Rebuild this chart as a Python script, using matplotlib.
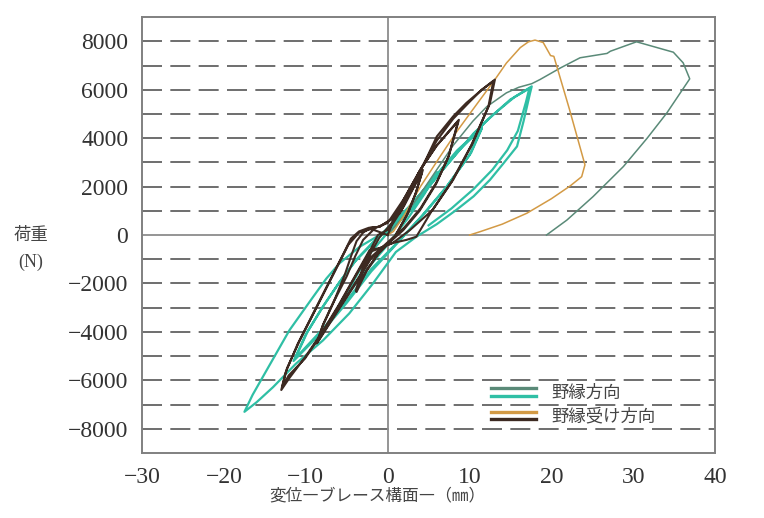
import matplotlib
matplotlib.use("Agg")
import matplotlib.pyplot as plt
from matplotlib.legend_handler import HandlerBase
from matplotlib.lines import Line2D

# ── data ─────────────────────────────────────────────────────────────────────
# 野縁方向, monotonic run (dark green)
nobuchi_mono_x = [0, 1, 2.5, 4, 6, 8, 10.4, 12.1, 14.5, 16, 17.6, 18.6, 21.1, 23.5, 26.8,
                  27.2, 30.4, 34.9, 36.1, 36.9, 34.1, 31.7, 28.8, 25.1, 21.9, 19.4]
nobuchi_mono_y = [0, 400, 1000, 1700, 2700, 3700, 4700, 5300, 5870, 6100, 6250, 6420, 6900,
                  7320, 7500, 7590, 7980, 7550, 7110, 6450, 5040, 4000, 2830, 1590, 620, 0]

# 野縁方向, cyclic run (teal)
nobuchi_cyc_x = [0, 1.5, 3, 4.5, 6,
                 4.5, 2.5, 0, -2.5, -5,
                 -4, -2.5, -1, 0.5, 2, 4, 6, 8.5, 11.5,
                 10, 7, 4, 1, -2, -5, -8, -11.5,
                 -10, -8, -6, -4, -2, 0, 3, 6, 9, 11.5,
                 10.2, 7.2, 4.2, 1.2, -2, -5, -8, -11.3,
                 -9.8, -7.8, -5.8, -3.8, -1.8, 0.3, 3.5, 7, 10.5, 13, 15.5, 17.6,
                 17.4, 16.6, 15.8, 14, 12.5, 10.5, 8.4, 6, 3.5, 1, -1.8, -4.7, -7.9,
                 -11.2, -14, -16, -17.5,
                 -16.5, -14.8, -12, -9.1, -7.5, -5.9, -3.4, -1, 1, 3, 6, 9, 12, 15, 17.3,
                 16.9, 15.9, 14.6, 12.8, 10.5, 7.8, 5]
nobuchi_cyc_y = [0, 600, 1300, 1900, 2600,
                 1700, 700, -400, -1400, -2500,
                 -1800, -900, -300, 300, 900, 1700, 2500, 3500, 4420,
                 3300, 1900, 700, -400, -1500, -2800, -4000, -5200,
                 -4100, -3000, -2000, -1100, -400, 300, 1300, 2500, 3600, 4400,
                 3400, 2000, 800, -300, -1400, -2700, -3900, -5100,
                 -4000, -2900, -1900, -1000, -300, 300, 1400, 2800, 4200, 5000, 5700, 6140,
                 5870, 4700, 3660, 2900, 2280, 1600, 1040, 450, -70, -700, -2000, -3240,
                 -4350, -5310, -6280, -6900, -7300,
                 -6600, -5590, -3930, -2550, -1800, -1170, -480, 0, 400, 1100, 2400,
                 3600, 4700, 5600, 6050,
                 5500, 4300, 3500, 2700, 1900, 1100, 400]

# 野縁受け方向, monotonic run (orange)
nokiuke_mono_x = [0, 0.7, 2, 4, 6.4, 8.5, 10.4, 13.1, 14.5, 16.2, 17.2, 18.0, 19.0, 19.9,
                  20.3, 22.2, 24.1, 23.7, 22.3, 20, 17, 14, 11.3, 10.0]
nokiuke_mono_y = [0, 150, 800, 2000, 3240, 4300, 5180, 6420, 7100, 7740, 7980, 8050, 7950,
                  7410, 7380, 5200, 2900, 2410, 2030, 1500, 900, 450, 140, 0]

# 野縁受け方向, cyclic run (dark brown)
nokiuke_cyc_x = [0, 0.5, 2, 4.3,
                 3.5, 2.5, 1, -1, -2.5, -3.8,
                 -3, -2, -1, 0.5, 2, 4.2,
                 3.4, 2.3, 0.8, -1.2, -2.6, -3.9,
                 -3.1, -2.1, -1.2, 0.2, 2, 4, 6, 8.7,
                 7.5, 6, 4, 2, 0, -2, -4, -6.5, -8.7,
                 -8, -6.5, -5, -4, -3, -1.5, 0, 2, 4, 6, 8.6,
                 7.4, 5.9, 3.9, 1.9, -0.1, -2.1, -4.1, -6.6, -8.6,
                 -7.9, -6.4, -5.2, -4.5, -3.8, -3, -2.2, -1, 0.65, 1.5, 3.5, 6, 8, 9.6,
                 11.5, 13.1,
                 12.5, 10.4, 8, 5.5, 2.7, 0.6, -1, -2.2, -4, -6, -8, -10, -12, -13,
                 -12.5, -11, -9.5, -8, -6.5, -5.3, -4.5, -3.5, -2.3, -1, 0.65, 2, 4, 6,
                 8, 10, 11.5, 12.9,
                 12.3, 10.2, 7.8, 5.3, 3.5, 2.3, 0.6, -1, -2.2, -4.1, -6.1, -8.1, -10.1,
                 -12.1, -12.9,
                 -12.3, -10.8, -9.3, -7.8, -6.3, -4.8, -3.5, -2, 0]
nokiuke_cyc_y = [0, 400, 1200, 2690,
                 1800, 900, 0, -700, -1400, -2350,
                 -1500, -700, -100, 500, 1300, 2600,
                 1700, 800, -100, -800, -1500, -2300,
                 -1400, -600, 0, 250, 1500, 2700, 3700, 4760,
                 3300, 2200, 1100, 300, -300, -900, -2000, -3300, -4480,
                 -3800, -2700, -1700, -900, -200, 300, 500, 1500, 2700, 3700, 4700,
                 3200, 2100, 1000, 200, -400, -1000, -2100, -3400, -4450,
                 -3700, -2600, -1600, -900, -250, 100, 290, 340, 690, 900, 2280, 4070,
                 4900, 5450, 6000, 6420,
                 5450, 3800, 2280, 1040, 200, -330, -540, -620, -1700, -2900, -4000,
                 -5000, -5900, -6400,
                 -5700, -4500, -3500, -2500, -1500, -700, -150, 150, 300, 340, 700, 1400,
                 2700, 3900, 4800, 5500, 6000, 6350,
                 5300, 3700, 2200, 950, -70, -200, -330, -550, -700, -1800, -3000, -4100,
                 -5100, -5800, -6300,
                 -5500, -4400, -3400, -2400, -1400, -400, 100, 250, 0]

# ── figure ────────────────────────────────────────────────────────────────────
JP = ["Noto Sans CJK JP", "DejaVu Sans"]
SERIF = ["Liberation Serif", "DejaVu Serif"]
c_dkgreen, c_teal = "#5a8a78", "#2fbfa5"
c_orange, c_brown = "#d39a45", "#3d2a22"

fig = plt.figure(figsize=(7.64, 5.18), dpi=100)
ax = fig.add_axes([0.186, 0.1255, 0.75, 0.8415])

for yv in range(-8000, 8001, 1000):
    if yv == 0:
        continue
    ax.axhline(yv, color="#555555", lw=1.2, dashes=(12, 5), zorder=0)
ax.axhline(0, color="#8c8c8c", lw=1.3, zorder=0)
ax.axvline(0, color="#8c8c8c", lw=1.3, zorder=0)

ax.plot(nobuchi_cyc_x, nobuchi_cyc_y, color=c_teal, lw=1.6, zorder=2)
ax.plot(nokiuke_cyc_x, nokiuke_cyc_y, color=c_brown, lw=1.5, zorder=3)
ax.plot(nobuchi_mono_x, nobuchi_mono_y, color=c_dkgreen, lw=1.1, zorder=2)
ax.plot(nokiuke_mono_x, nokiuke_mono_y, color=c_orange, lw=1.1, zorder=2)

ax.set_xlim(-30, 40)
ax.set_ylim(-9000, 9000)
ax.set_xticks(range(-30, 41, 10))
ax.set_yticks(range(-8000, 8001, 2000))
ax.tick_params(length=0, pad=10, labelsize=17, labelcolor="#333333")
for lab in ax.get_xticklabels() + ax.get_yticklabels():
    lab.set_family(SERIF)
for s in ax.spines.values():
    s.set_color("#808080")
    s.set_linewidth(1.4)

fig.text(377 / 764, 1 - 496 / 518, "変位―ブレース構面―（㎜）", family=JP, fontsize=12,
         color="#444444", ha="center", va="center")
fig.text(31 / 764, 1 - 235 / 518, "荷重", family=JP, fontsize=12.5, color="#444444",
         ha="center", va="center")
fig.text(31 / 764, 1 - 262 / 518, "(N)", family=SERIF, fontsize=13, color="#444444",
         ha="center", va="center")


class TwoLine(HandlerBase):
    def create_artists(self, legend, orig_handle, xd, yd, w, h, fontsize, trans):
        top, bot = orig_handle
        l1 = Line2D([-xd, -xd + w], [h * 0.8, h * 0.8], color=top.get_color(), lw=2.4)
        l2 = Line2D([-xd, -xd + w], [h * 0.2, h * 0.2], color=bot.get_color(), lw=2.4)
        for l in (l1, l2):
            l.set_transform(trans)
        return [l1, l2]


h1 = (Line2D([], [], color=c_dkgreen), Line2D([], [], color=c_teal))
h2 = (Line2D([], [], color=c_orange), Line2D([], [], color=c_brown))
leg = ax.legend([h1, h2], ["野縁方向", "野縁受け方向"], handler_map={tuple: TwoLine()},
                loc="upper left", bbox_to_anchor=(0.609, 0.158), frameon=False,
                prop={"family": JP, "size": 12.5}, handlelength=2.6, handletextpad=0.9,
                labelspacing=0.3, borderaxespad=0, borderpad=0)
for t in leg.get_texts():
    t.set_color("#444444")

fig.savefig("out.png", dpi=100)
